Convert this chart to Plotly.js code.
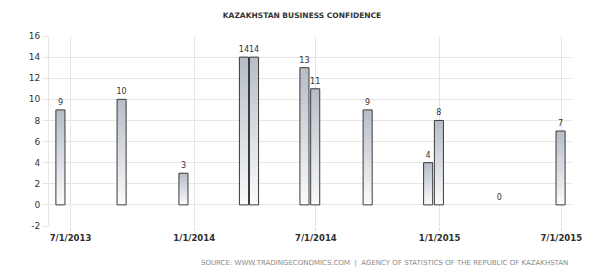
<!DOCTYPE html>
<html>
<head>
<meta charset="utf-8">
<script src="https://cdn.plot.ly/plotly-3.0.1.min.js"></script>
<style>
html,body{margin:0;padding:0;background:#fff;}
#chart{width:605px;height:276px;}
</style>
</head>
<body>
<div id="chart"></div>
<script>
// Data
const dates = ["2013-06-16","2013-09-15","2013-12-16","2014-03-16","2014-03-31","2014-06-14","2014-06-30","2014-09-16","2014-12-15","2014-12-31","2015-03-31","2015-06-30"];
const values = [9, 10, 3, 14, 14, 13, 11, 9, 4, 8, 0, 7];
const tickDates = ["2013-07-01","2014-01-01","2014-07-01","2015-01-01","2015-07-01"];
const tickLabels = ["7/1/2013","1/1/2014","7/1/2014","1/1/2015","7/1/2015"];
const yTicks = [-2, 0, 2, 4, 6, 8, 10, 12, 14, 16];
const yTickLabels = ["-2", "0", "2", "4", "6", "8", "10", "12", "14", "16"];
const titleText = "KAZAKHSTAN BUSINESS CONFIDENCE";
const sourceText = "SOURCE: WWW.TRADINGECONOMICS.COM  |  AGENCY OF STATISTICS OF THE REPUBLIC OF KAZAKHSTAN";

const DAY = 86400000;
const trace = {
  type: "bar",
  x: dates,
  y: values,
  width: dates.map(() => 13.5 * DAY),
  text: values.map(v => String(v)),
  textposition: "outside",
  constraintext: "none",
  cliponaxis: false,
  textfont: {family: "DejaVu Sans", size: 8, color: "#333"},
  marker: {color: "#d3d8df", line: {color: "#3a3a3a", width: values.map(v => v === 0 ? 0 : 1)}},
  hoverinfo: "none"
};

const layout = {
  width: 605, height: 276,
  margin: {l: 49, r: 33, t: 36, b: 50},
  paper_bgcolor: "#fff", plot_bgcolor: "#fff",
  showlegend: false,
  title: {
    text: "<b>" + titleText + "</b>",
    font: {family: "DejaVu Sans", size: 7.5, color: "#333"},
    x: 302/605, xanchor: "center", xref: "container",
    y: 1 - 15/276, yanchor: "middle", yref: "container"
  },
  xaxis: {
    type: "date",
    range: ["2013-05-30", "2015-07-17"],
    tickmode: "array",
    tickvals: tickDates,
    ticktext: tickLabels.map(t => "<b>" + t + "</b>"),
    tickfont: {family: "DejaVu Sans", size: 8.5, color: "#2e2e2e"},
    showgrid: true, gridcolor: "#e6e6e6", gridwidth: 1,
    ticks: "outside", ticklen: 4, tickcolor: "#e0e0e0",
    showline: false, zeroline: false,
    fixedrange: true
  },
  yaxis: {
    range: [-2, 16],
    tickmode: "array",
    tickvals: yTicks,
    ticktext: yTickLabels,
    tickfont: {family: "DejaVu Sans", size: 9, color: "#333"},
    showgrid: true, gridcolor: "#e6e6e6", gridwidth: 1,
    ticks: "outside", ticklen: 6, tickcolor: "#e6e6e6",
    showline: true, linecolor: "#e6e6e6", linewidth: 1,
    zeroline: false,
    fixedrange: true
  },
  annotations: [{
    text: sourceText,
    xref: "paper", yref: "paper",
    x: 0.996, xanchor: "right",
    y: -0.195, yanchor: "middle",
    showarrow: false,
    font: {family: "DejaVu Sans", size: 7, color: "#8a8a8a"}
  }],
  bargap: 0
};

Plotly.newPlot("chart", [trace], layout, {staticPlot: true, displayModeBar: false}).then(function(gd){
  // apply a vertical gradient fill to the library-drawn bars
  const svg = gd.querySelector("svg.main-svg");
  const ns = "http://www.w3.org/2000/svg";
  let defs = svg.querySelector("defs");
  if (!defs) { defs = document.createElementNS(ns, "defs"); svg.insertBefore(defs, svg.firstChild); }
  const grad = document.createElementNS(ns, "linearGradient");
  grad.setAttribute("id", "barGrad");
  grad.setAttribute("x1", "0"); grad.setAttribute("y1", "0");
  grad.setAttribute("x2", "0"); grad.setAttribute("y2", "1");
  [["0", "#b6bdc7"], ["1", "#fafbfc"]].forEach(function(s){
    const st = document.createElementNS(ns, "stop");
    st.setAttribute("offset", s[0]);
    st.setAttribute("stop-color", s[1]);
    grad.appendChild(st);
  });
  defs.appendChild(grad);
  gd.querySelectorAll("g.trace.bars g.point path").forEach(function(p){
    p.style.fill = "url(#barGrad)";
  });
});
</script>
</body>
</html>
